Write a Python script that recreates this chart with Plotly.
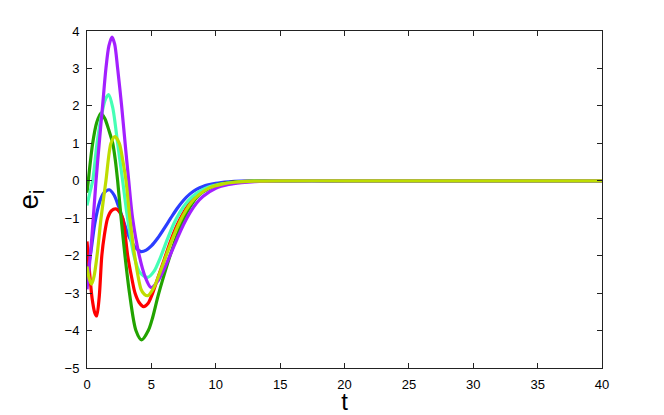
import plotly.graph_objects as go

# ---- data ----
t_blue = [0, 0.3, 0.6, 1.0, 1.3, 1.73, 2.1, 2.45, 2.77, 3.1, 3.42, 3.8, 4.2, 4.6, 5.0, 5.5, 6.0, 6.5, 7.0, 7.5, 8.0, 8.5, 9.0, 10, 11, 12, 14, 20, 30, 40]
e_blue = [-2.5, -1.9, -1.15, -0.55, -0.33, -0.24, -0.38, -0.68, -1.0, -1.35, -1.6, -1.8, -1.89, -1.85, -1.74, -1.53, -1.27, -1.0, -0.74, -0.52, -0.35, -0.23, -0.15, -0.07, -0.03, -0.01, 0, 0, 0, 0]

t_red = [0, 0.2, 0.4, 0.6, 0.75, 0.95, 1.15, 1.35, 1.6, 1.9, 2.25, 2.5, 2.77, 3.16, 3.45, 3.73, 4.05, 4.4, 4.75, 5.1, 5.5, 6.0, 6.5, 7.0, 7.5, 8.0, 8.5, 9.0, 10, 11, 12, 14, 20, 30, 40]
e_red = [-1.62, -2.45, -3.15, -3.52, -3.61, -3.1, -2.0, -1.45, -1.0, -0.8, -0.75, -0.82, -1.0, -2.0, -2.55, -3.0, -3.25, -3.36, -3.27, -3.0, -2.6, -2.1, -1.6, -1.18, -0.85, -0.58, -0.4, -0.27, -0.11, -0.05, -0.02, 0, 0, 0, 0]

t_green = [0, 0.1, 0.44, 0.75, 1.09, 1.4, 1.7, 2.0, 2.2, 2.38, 2.65, 2.95, 3.3, 3.8, 4.24, 4.76, 5.1, 5.5, 6.0, 6.5, 7.0, 7.5, 8.0, 8.5, 9.0, 10, 11, 12, 14, 20, 30, 40]
e_green = [-0.32, 0.0, 1.0, 1.55, 1.81, 1.65, 1.35, 1.0, 0.55, 0.0, -1.0, -2.0, -3.0, -4.0, -4.25, -4.0, -3.65, -3.1, -2.5, -1.95, -1.45, -1.02, -0.7, -0.45, -0.3, -0.12, -0.05, -0.02, 0, 0, 0, 0]

t_cyan = [0, 0.2, 0.44, 0.78, 1.1, 1.4, 1.68, 2.0, 2.38, 2.77, 3.15, 3.65, 4.1, 4.71, 5.2, 5.7, 6.2, 6.7, 7.2, 7.7, 8.2, 8.7, 9.5, 10.5, 11.5, 13, 15, 20, 30, 40]
e_cyan = [-0.66, -0.35, 0, 1.0, 1.7, 2.15, 2.3, 1.95, 1.0, 0, -1.0, -2.0, -2.45, -2.58, -2.42, -2.05, -1.6, -1.18, -0.85, -0.6, -0.42, -0.29, -0.16, -0.08, -0.04, -0.01, 0, 0, 0, 0]

t_purple = [0, 0.2, 0.4, 0.7, 1.0, 1.21, 1.47, 1.7, 1.94, 2.15, 2.38, 2.69, 3.0, 3.24, 3.54, 4.06, 4.5, 4.97, 5.5, 6.0, 6.5, 7.0, 7.5, 8.0, 8.5, 9.0, 10, 11, 12, 13, 15, 20, 30, 40]
e_purple = [-2.9, -2.2, -1.4, 0, 1.2, 2.0, 3.0, 3.6, 3.84, 3.65, 3.0, 2.0, 0.85, 0, -1.0, -2.0, -2.55, -2.85, -2.68, -2.35, -1.95, -1.55, -1.17, -0.85, -0.6, -0.42, -0.2, -0.1, -0.05, -0.02, 0, 0, 0, 0]

t_yellow = [0, 0.2, 0.36, 0.55, 0.78, 1.09, 1.47, 1.86, 2.17, 2.51, 2.8, 3.03, 3.33, 3.7, 4.2, 4.45, 4.71, 5.2, 5.7, 6.2, 6.7, 7.2, 7.7, 8.2, 8.7, 9.5, 10.5, 11.5, 13, 15, 20, 30, 40]
e_yellow = [-2.29, -2.65, -2.76, -2.55, -2.0, -1.0, 0.0, 1.0, 1.18, 1.0, 0.5, 0.0, -1.0, -2.0, -2.9, -3.03, -3.07, -2.85, -2.42, -1.95, -1.5, -1.1, -0.78, -0.54, -0.37, -0.19, -0.09, -0.04, -0.01, 0, 0, 0, 0]

x_ticks = [0, 5, 10, 15, 20, 25, 30, 35, 40]
y_ticks = [-5, -4, -3, -2, -1, 0, 1, 2, 3, 4]

series = [
    (t_blue, e_blue, "#2B3DFF"),
    (t_red, e_red, "#FF0000"),
    (t_green, e_green, "#22A300"),
    (t_cyan, e_cyan, "#45FFB5"),
    (t_purple, e_purple, "#A320FF"),
    (t_yellow, e_yellow, "#BEDD00"),
]

fig = go.Figure()
for tx, ey, col in series:
    fig.add_trace(go.Scatter(x=tx, y=ey, mode="lines",
                             line=dict(color=col, width=3.2, shape="spline", smoothing=0.8),
                             showlegend=False, hoverinfo="skip"))

axis_common = dict(showgrid=False, zeroline=False, showline=True, linecolor="#222222",
                   linewidth=1, mirror="ticks", ticks="inside", ticklen=5, automargin=False,
                   tickcolor="#222222", tickfont=dict(family="Liberation Sans, Arial", size=13, color="black"))

fig.update_layout(
    width=656, height=407,
    margin=dict(l=79, r=62, t=23, b=47),
    paper_bgcolor="white", plot_bgcolor="white",
    xaxis=dict(range=[0, 40], tickvals=x_ticks, ticklabelstandoff=4,
               title=dict(text="t", font=dict(family="Liberation Sans, Arial", size=24, color="black"), standoff=4),
               **axis_common),
    yaxis=dict(range=[-5, 4], tickvals=y_ticks, ticklabelstandoff=4,
               title=dict(text="e<sub>i</sub>", font=dict(family="Liberation Sans, Arial", size=28, color="black"), standoff=17),
               **axis_common),
)

fig.write_html("out.html")
